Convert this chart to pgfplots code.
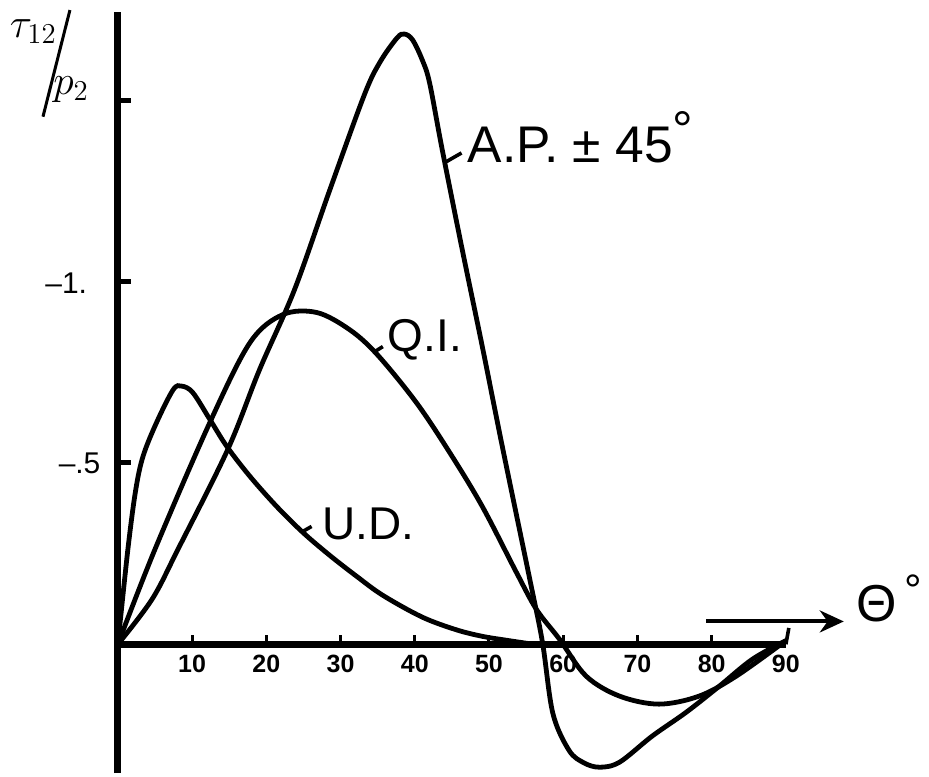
\documentclass[border=0pt]{standalone}
\usepackage{fontspec}
\setmainfont{Liberation Sans}
\usepackage{pgfplots}
\pgfplotsset{compat=1.18}
\usetikzlibrary{arrows.meta}

% shear stress ratio against fibre angle for three laminates
\pgfplotstableread{
x y
0 0
4.6 0.124
8.1 0.262
14.8 0.537
19.1 0.758
23.8 0.978
28.5 1.250
33.2 1.515
35.3 1.605
37.6 1.672
38.6 1.683
39.7 1.667
41.0 1.612
42.0 1.548
43.7 1.364
46.4 1.088
49.1 0.821
51.8 0.545
55.5 0.179
57.2 0.006
58.6 -0.190
60.8 -0.293
62.8 -0.327
64.9 -0.339
67.6 -0.325
72.0 -0.253
76.6 -0.187
81.0 -0.116
85.5 -0.041
90.0 0.010
}\ap

\pgfplotstableread{
x y
0 0
5.0 0.262
12.4 0.612
17.8 0.832
22.2 0.909
26.8 0.915
31.2 0.868
34.9 0.800
40.2 0.667
44.7 0.529
49.1 0.380
53.7 0.198
56.4 0.096
59.5 0.014
63.1 -0.088
67.6 -0.143
72.9 -0.165
78.3 -0.143
83.3 -0.088
90.0 0.010
}\qi

\pgfplotstableread{
x y
0 0
1.35 0.262
2.4 0.425
3.4 0.519
5.2 0.611
7.45 0.702
8.6 0.712
10.1 0.694
12.4 0.620
14.7 0.545
17.8 0.463
21.4 0.380
24.9 0.309
28.5 0.246
32.2 0.187
35.7 0.135
41.0 0.075
45.6 0.040
49.1 0.022
52.4 0.011
56.0 0.0
}\ud

\begin{document}
\begin{tikzpicture}
\begin{axis}[
  scale only axis,
  width=334.35pt, height=380.97pt,
  xmin=0, xmax=90, ymin=-0.3554, ymax=1.7438,
  axis lines=middle,
  axis line style={line width=3.6pt, -},
  xtick=\empty, ytick=\empty,
  clip=false,
]
% page frame
\path (axis cs:-15.88,-0.3554) rectangle (axis cs:109.15,1.7769);

% tick marks
\draw[line width=1.5pt] (axis cs:10,0) -- (axis cs:10,0.025);
\draw[line width=1.5pt] (axis cs:20,0) -- (axis cs:20,0.025);
\draw[line width=1.5pt] (axis cs:30,0) -- (axis cs:30,0.025);
\draw[line width=1.5pt] (axis cs:40,0) -- (axis cs:40,0.025);
\draw[line width=1.5pt] (axis cs:50,0) -- (axis cs:50,0.025);
\draw[line width=1.5pt] (axis cs:60,0) -- (axis cs:60,0.025);
\draw[line width=1.5pt] (axis cs:70,0) -- (axis cs:70,0.025);
\draw[line width=1.5pt] (axis cs:80,0) -- (axis cs:80,0.025);
\draw[line width=1.8pt] (axis cs:90,0) -- (axis cs:90.4,0.045);
\draw[line width=2.5pt] (axis cs:0,0.5) -- (axis cs:1.75,0.5);
\draw[line width=2.5pt] (axis cs:0,1.0) -- (axis cs:1.75,1.0);
\draw[line width=2.5pt] (axis cs:0,1.5) -- (axis cs:1.75,1.5);

% tick labels
\begin{scope}[every node/.style={font=\bfseries\fontsize{12.5}{12.5}\selectfont}]
\node at (axis cs:10,-0.055) {10};
\node at (axis cs:20,-0.055) {20};
\node at (axis cs:30,-0.055) {30};
\node at (axis cs:40,-0.055) {40};
\node at (axis cs:50,-0.055) {50};
\node at (axis cs:60,-0.055) {60};
\node at (axis cs:70,-0.055) {70};
\node at (axis cs:80,-0.055) {80};
\node at (axis cs:90,-0.055) {90};
\end{scope}
\node[anchor=east, font=\fontsize{15}{15}\selectfont] at (axis cs:-3.2,0.997) {–1.};
\node[anchor=east, font=\fontsize{15}{15}\selectfont] at (axis cs:-1.4,0.50) {–.5};

% axis title
\node[font=\fontsize{21}{21}\selectfont] at (axis cs:-11.4,1.69) {$\tau_{12}$};
\draw[line width=1.5pt] (axis cs:-6.46,1.749) -- (axis cs:-10.09,1.455);
\node[font=\fontsize{21}{21}\selectfont] at (axis cs:-6.3,1.53) {$p_{2}$};

% angle axis arrow
\draw[line width=2pt, -{Stealth[length=12pt,width=11pt]}] (axis cs:79.3,0.063) -- (axis cs:97.8,0.063);
\node[font=\fontsize{26}{26}\selectfont] at (axis cs:102.3,0.112) {Θ};
\node[font=\fontsize{22}{22}\selectfont] at (axis cs:107.2,0.15) {°};

% curves
\addplot[line width=2.4pt, smooth, tension=0.55] table {\ap};
\addplot[line width=2.4pt, smooth, tension=0.55] table {\qi};
\addplot[line width=2.4pt, smooth, tension=0.55] table {\ud};

% curve labels
\draw[line width=1.8pt] (axis cs:44.0,1.328) -- (axis cs:46.3,1.355);
\node[anchor=base west, font=\fontsize{25.8}{26}\selectfont, inner sep=0pt] at (axis cs:47.1,1.328) {A.P. ± 45\raisebox{0.3em}{°}};
\draw[line width=1.8pt] (axis cs:34.6,0.807) -- (axis cs:35.7,0.821);
\node[anchor=base west, font=\fontsize{23}{24}\selectfont, inner sep=0pt] at (axis cs:36.3,0.807) {Q.I.};
\draw[line width=1.8pt] (axis cs:24.9,0.311) -- (axis cs:26.1,0.325);
\node[anchor=base west, font=\fontsize{23}{24}\selectfont, inner sep=0pt] at (axis cs:27.5,0.289) {U.D.};
\end{axis}
\end{tikzpicture}
\end{document}
